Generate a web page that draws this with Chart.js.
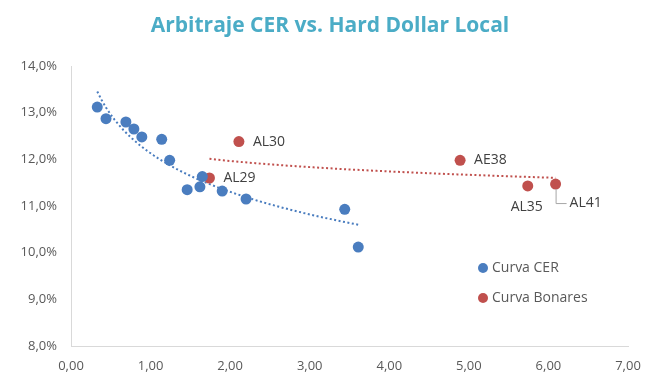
<!DOCTYPE html>
<html>
<head>
<meta charset="utf-8">
<script src="https://cdn.jsdelivr.net/npm/chart.js@4.4.1/dist/chart.umd.min.js"></script>
<style>
  html, body { margin: 0; padding: 0; background: #fff; }
  #wrap { width: 660px; height: 382px; }
</style>
</head>
<body>
<div id="wrap"><canvas id="chart" width="660" height="382"></canvas></div>
<script>
// duration (years) and yield (%)
const cerX = [0.33, 0.44, 0.69, 0.79, 0.89, 1.14, 1.24, 1.46, 1.62, 1.65, 1.90, 2.20, 3.44, 3.61];
const cerY = [13.12, 12.87, 12.80, 12.65, 12.48, 12.43, 11.98, 11.35, 11.41, 11.63, 11.32, 11.15, 10.93, 10.12];

const bonaresNames = ["AL29", "AL30", "AE38", "AL35", "AL41"];
const bonaresX = [1.74, 2.11, 4.89, 5.74, 6.09];
const bonaresY = [11.60, 12.38, 11.98, 11.43, 11.47];

const xTicks = [0, 1, 2, 3, 4, 5, 6, 7];
const yTicks = [8, 9, 10, 11, 12, 13, 14];

const titleText = "Arbitraje CER vs. Hard Dollar Local";
const legendNames = ["Curva CER", "Curva Bonares"];
const blue = "#4a7dbf";
const red = "#c0504d";

// logarithmic trendline (least squares on ln x), like the spreadsheet does
function logTrend(xs, ys, steps) {
  let n = xs.length, sx = 0, sy = 0, sxx = 0, sxy = 0;
  xs.forEach((x, i) => {
    let l = Math.log(x);
    sx += l; sy += ys[i]; sxx += l * l; sxy += l * ys[i];
  });
  let b = (n * sxy - sx * sy) / (n * sxx - sx * sx);
  let a = (sy - b * sx) / n;
  let lo = Math.min(...xs), hi = Math.max(...xs);
  let pts = [];
  for (let i = 0; i <= steps; i++) {
    let x = lo + (hi - lo) * i / steps;
    pts.push({ x: x, y: a + b * Math.log(x) });
  }
  return pts;
}

function toPoints(xs, ys) {
  return ys.map((y, i) => ({ x: xs[i], y: y }));
}

const fmt = (v, d) => v.toFixed(d).replace(".", ",");

//title centred on the whole canvas
const titlePlugin = {
  id: "pageTitle",
  afterDraw(chart) {
    let ctx = chart.ctx;
    ctx.save();
    ctx.font = "bold 21px 'Open Sans'";
    ctx.fillStyle = "#4bacc6";
    ctx.textAlign = "center";
    ctx.textBaseline = "middle";
    ctx.fillText(titleText, chart.width / 2, 26);
    ctx.restore();
  },
};

//labels next to the bonares points
const labelPlugin = {
  id: "pointLabels",
  afterDatasetsDraw(chart) {
    let ctx = chart.ctx;
    let meta = chart.getDatasetMeta(1);
    ctx.save();
    ctx.font = "14px 'Open Sans'";
    ctx.fillStyle = "#404040";
    ctx.textBaseline = "middle";
    meta.data.forEach((el, i) => {
      let name = bonaresNames[i];
      let x = el.x, y = el.y;
      if (name === "AL35") {
        ctx.textAlign = "center";
        ctx.fillText(name, x - 1, y + 21);
      } else if (name === "AL41") {
        ctx.strokeStyle = "#a6a6a6";
        ctx.lineWidth = 1;
        ctx.beginPath();
        ctx.moveTo(x + 0.5, y + 5);
        ctx.lineTo(x + 0.5, y + 19.5);
        ctx.lineTo(x + 11, y + 19.5);
        ctx.stroke();
        ctx.textAlign = "left";
        ctx.fillText(name, x + 14, y + 19);
      } else {
        ctx.textAlign = "left";
        ctx.fillText(name, x + 14, y);
      }
    });
    ctx.restore();
  },
};

//legend inside the plot, bottom right
const legendPlugin = {
  id: "innerLegend",
  afterDraw(chart) {
    let ctx = chart.ctx;
    let colors = [blue, red];
    ctx.save();
    ctx.font = "14px 'Open Sans'";
    ctx.textBaseline = "middle";
    legendNames.forEach((name, i) => {
      let y = 268 + i * 30;
      ctx.beginPath();
      ctx.fillStyle = colors[i];
      ctx.arc(483, y, 5, 0, Math.PI * 2);
      ctx.fill();
      ctx.fillStyle = "#595959";
      ctx.fillText(name, 492, y);
    });
    ctx.restore();
  },
};

let ctx = document.getElementById("chart").getContext("2d");
let chart = new Chart(ctx, {
  type: "scatter",
  data: {
    datasets: [
      {
        label: legendNames[0],
        data: toPoints(cerX, cerY),
        backgroundColor: blue,
        borderWidth: 0,
        pointRadius: 5.5,
        pointHoverRadius: 5.5,
        order: 1,
      },
      {
        label: legendNames[1],
        data: toPoints(bonaresX, bonaresY),
        backgroundColor: red,
        borderWidth: 0,
        pointRadius: 5.5,
        pointHoverRadius: 5.5,
        order: 1,
      },
      {
        label: "trend CER",
        data: logTrend(cerX, cerY, 60),
        showLine: true,
        borderColor: blue,
        borderWidth: 2,
        borderDash: [2, 2.5],
        pointRadius: 0,
        fill: false,
        order: 2,
      },
      {
        label: "trend Bonares",
        data: logTrend(bonaresX, bonaresY, 60),
        showLine: true,
        borderColor: red,
        borderWidth: 2,
        borderDash: [2, 2.5],
        pointRadius: 0,
        fill: false,
        order: 2,
      },
    ],
  },
  options: {
    responsive: false,
    animation: false,
    layout: { padding: { left: 0, right: 32, top: 66, bottom: 0 } },
    plugins: {
      legend: { display: false },
      tooltip: { enabled: false },
      title: { display: false },
    },
    scales: {
      x: {
        type: "linear",
        min: xTicks[0],
        max: xTicks[xTicks.length - 1],
        afterBuildTicks: (s) => { s.ticks = xTicks.map((v) => ({ value: v })); },
        afterFit: (s) => { s.height = 36; },
        grid: { display: false, drawTicks: false },
        border: { display: true, color: "#d9d9d9", width: 1 },
        ticks: {
          padding: 12,
          color: "#595959",
          font: { family: "'Open Sans'", size: 13 },
          callback: (v) => fmt(v, 2),
        },
      },
      y: {
        min: yTicks[0],
        max: yTicks[yTicks.length - 1],
        afterBuildTicks: (s) => { s.ticks = yTicks.map((v) => ({ value: v })); },
        afterFit: (s) => { s.width = 71; },
        grid: { display: false, drawTicks: false },
        border: { display: true, color: "#d9d9d9", width: 1 },
        ticks: {
          padding: 14,
          color: "#595959",
          font: { family: "'Open Sans'", size: 13 },
          callback: (v) => fmt(v, 1) + "%",
        },
      },
    },
  },
  plugins: [titlePlugin, labelPlugin, legendPlugin],
});
</script>
</body>
</html>
